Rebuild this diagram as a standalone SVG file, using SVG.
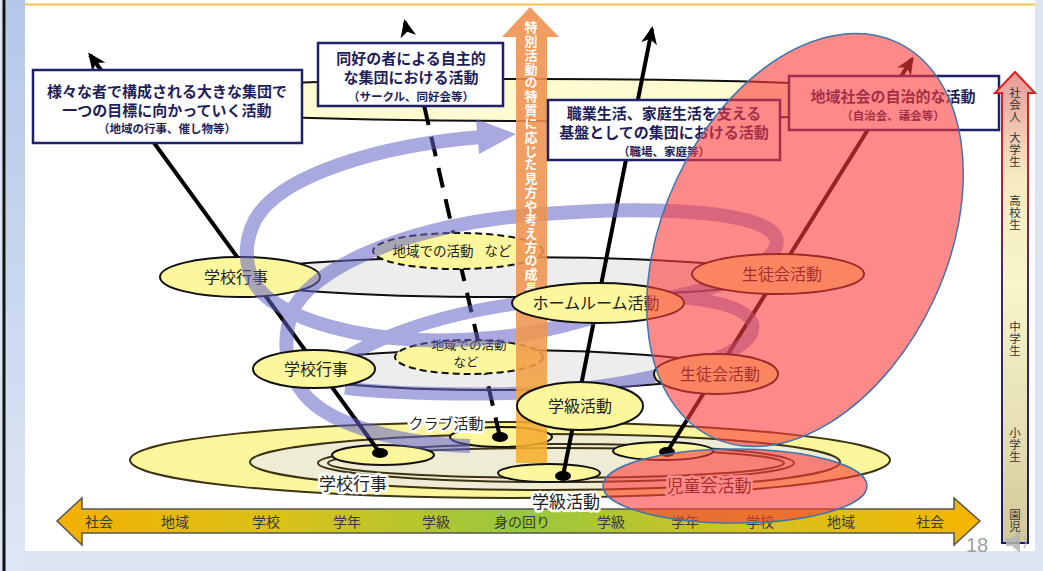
<svg xmlns="http://www.w3.org/2000/svg" width="1043" height="571" viewBox="0 0 1043 571">
<style>
.box{fill:#fff;stroke:#1f1f6b;stroke-width:2.5}
.bt{font-family:"Noto Sans CJK JP","Noto Sans",sans-serif;font-weight:bold;fill:#1e1e5a;font-size:15px;text-anchor:middle}
.bs{font-size:11.5px}
.node{fill:#fcf69c;stroke:#111;stroke-width:2}
.dn{stroke-dasharray:7 4}
.nt{font-family:"Noto Sans CJK JP","Noto Sans",sans-serif;font-size:16px;fill:#222;text-anchor:middle}
.st{font-size:13.5px}
.ring{stroke:#3b3312;stroke-width:2}
.ln{stroke:#000;stroke-width:4;fill:none}
.dot{fill:#000}
.halo{paint-order:stroke;stroke:#fff;stroke-width:5px;stroke-linejoin:round}
.ax{font-family:"Noto Sans CJK JP","Noto Sans",sans-serif;font-size:14px;fill:#3a3a3a;text-anchor:middle}
.vt{font-family:"Noto Sans CJK JP","Noto Sans",sans-serif;font-size:11.5px;fill:#333;writing-mode:vertical-rl;text-orientation:upright;letter-spacing:0.3px}
.ot{font-family:"Noto Sans CJK JP","Noto Sans",sans-serif;font-size:13px;font-weight:bold;fill:#fff;writing-mode:vertical-rl;text-orientation:upright;letter-spacing:0.7px}
.red{fill:#fc3a3a;fill-opacity:0.6;stroke:#3f74ad;stroke-width:1.5}
</style>
<defs>
<linearGradient id="gLeft" x1="0" y1="0" x2="0" y2="1"><stop offset="0" stop-color="#b3c8e8"/><stop offset="1" stop-color="#dfe7f5"/></linearGradient>
<linearGradient id="gAxis" gradientUnits="userSpaceOnUse" x1="57" y1="0" x2="980" y2="0"><stop offset="0" stop-color="#f4b000"/><stop offset="0.25" stop-color="#d9c21a"/><stop offset="0.5" stop-color="#98c83e"/><stop offset="0.75" stop-color="#d5c21e"/><stop offset="1" stop-color="#f4b400"/></linearGradient>
<linearGradient id="gOrange" gradientUnits="userSpaceOnUse" x1="0" y1="7" x2="0" y2="463"><stop offset="0" stop-color="#ee8f4e"/><stop offset="0.7" stop-color="#ef9550"/><stop offset="0.88" stop-color="#f4a838"/><stop offset="1" stop-color="#f6b02a"/></linearGradient>
<linearGradient id="gAgeFill" gradientUnits="userSpaceOnUse" x1="0" y1="72" x2="0" y2="543"><stop offset="0" stop-color="#e89a98"/><stop offset="0.22" stop-color="#f6eac2"/><stop offset="0.45" stop-color="#f8f5c8"/><stop offset="0.75" stop-color="#e6e0b4"/><stop offset="1" stop-color="#d2c898"/></linearGradient>
<linearGradient id="gAgeStroke" gradientUnits="userSpaceOnUse" x1="0" y1="72" x2="0" y2="543"><stop offset="0" stop-color="#e41e1e"/><stop offset="0.22" stop-color="#c02030"/><stop offset="0.45" stop-color="#3a2a70"/><stop offset="1" stop-color="#1c1c64"/></linearGradient>
<marker id="ah" markerUnits="userSpaceOnUse" markerWidth="18" markerHeight="16" refX="15" refY="8" orient="auto"><path d="M0,0 L18,8 L0,16 L5,8 z" fill="#000"/></marker>
</defs>

<!-- frame -->
<rect width="1043" height="571" fill="#dde5f3"/>
<rect x="6" y="0" width="19" height="571" fill="url(#gLeft)"/>
<rect x="2.5" y="0" width="3" height="571" fill="#111"/>
<rect x="25" y="0" width="1010" height="551" fill="#fff"/>
<line x1="25" y1="4.5" x2="1035" y2="4.5" stroke="#f3c247" stroke-width="2"/>

<!-- layers -->
<g id="layers">
<ellipse cx="540" cy="100" rx="430" ry="21" fill="#fdfbd0" stroke="#111" stroke-width="2"/>
<ellipse cx="505" cy="277" rx="275" ry="20" fill="#ededed" stroke="#111" stroke-width="2"/>
<ellipse cx="500" cy="370" rx="220" ry="20" fill="#ededed" stroke="#111" stroke-width="2"/>
<ellipse class="ring" cx="510" cy="460" rx="380" ry="38" fill="#fbf59b"/>
<ellipse class="ring" cx="545" cy="462" rx="295" ry="28" fill="#efecd6"/>
<ellipse class="ring" cx="556" cy="463" rx="238" ry="19" fill="none"/>
<ellipse class="ring" cx="556" cy="463" rx="228" ry="15" fill="none"/>
</g>

<!-- bottom small nodes -->
<g id="node-small-gakkogyoji"><ellipse class="node" cx="383" cy="455" rx="51" ry="10"/></g>
<g id="node-small-club"><ellipse class="node" cx="501" cy="437" rx="51" ry="10"/></g>
<g id="node-small-gakkyu"><ellipse class="node" cx="549" cy="473" rx="51" ry="9"/></g>
<g id="node-small-jidokai"><ellipse class="node" cx="663" cy="451" rx="50" ry="9"/></g>

<!-- connectors -->
<g id="connectors">
<path class="ln" d="M380,453 L90,55" marker-end="url(#ah)"/>
<path class="ln" d="M500,437 L405,22" stroke-dasharray="20 12" marker-end="url(#ah)"/>
<path class="ln" d="M563,476 L652,29" marker-end="url(#ah)"/>
<path class="ln" d="M667,452 L912,59" marker-end="url(#ah)"/>
<ellipse class="dot" cx="380" cy="453" rx="8" ry="5"/>
<ellipse class="dot" cx="500" cy="437" rx="8" ry="5"/>
<ellipse class="dot" cx="563" cy="476" rx="8" ry="5"/>
<ellipse class="dot" cx="667" cy="452" rx="8" ry="5"/>
</g>

<!-- nodes under spiral -->
<g id="node-gakkogyoji-high"><ellipse class="node" cx="240" cy="277" rx="80" ry="20"/><text class="nt" x="236" y="283">学校行事</text></g>
<g id="node-chiiki-high"><ellipse class="node dn" cx="458" cy="251" rx="85" ry="18"/><text class="nt st" x="452" y="256">地域での活動<tspan dx="8"> など</tspan></text></g>
<g id="node-chiiki-mid"><ellipse class="node dn" cx="469" cy="357" rx="74" ry="17"/><text class="nt" style="font-size:12.5px" x="469" y="350">地域での活動</text><text class="nt" style="font-size:12.5px" x="466" y="367">など</text></g>

<!-- spiral -->
<g id="spiral" opacity="0.55" fill="none" stroke="#6464c8">
<path stroke-width="13" d="M345,358 C400,325 480,305 560,299 C650,292 740,296 752,322 C760,345 710,365 650,377 C600,388 540,394 480,394 C420,394 375,392 345,388"/>
<path stroke-width="14" d="M470,446 C400,444 330,425 305,395 C285,372 282,340 292,312 C310,270 400,228 520,216 C630,206 745,208 772,232 C792,252 745,280 690,293 C630,307 580,322 545,330 C520,336 470,342 420,340 C350,337 300,320 275,303 C245,285 240,250 255,220 C280,175 380,145 482,137"/>
<polygon fill="#6464c8" stroke="none" points="476,119 516,134 479,154"/>
</g>

<!-- orange growth arrow -->
<g id="growth-arrow">
<path d="M530,7 L559,37 L547,37 L547,463 L516,463 L516,37 L502,37 Z" fill="url(#gOrange)" opacity="0.88"/>
<text class="ot" x="531" y="21">特別活動の特質に応じた見方や考え方の成長</text>
</g>

<!-- nodes over spiral -->
<g id="node-homeroom"><ellipse class="node" cx="598" cy="303" rx="86" ry="20"/><text class="nt" x="596" y="309">ホームルーム活動</text></g>
<g id="node-gakkyu-mid"><ellipse class="node" cx="580" cy="406" rx="63" ry="24"/><text class="nt" x="580" y="412">学級活動</text></g>
<g id="node-seito-high"><ellipse class="node" cx="778" cy="274" rx="86" ry="20"/><text class="nt" x="782" y="280">生徒会活動</text></g>
<g id="node-seito-mid"><ellipse class="node" cx="716" cy="374" rx="62" ry="20"/><text class="nt" x="720" y="380">生徒会活動</text></g>
<g id="node-gakkogyoji-mid"><ellipse class="node" cx="314" cy="369" rx="61" ry="19"/><text class="nt" x="316" y="375">学校行事</text></g>

<!-- boxes -->
<g id="box-community-events"><rect class="box" x="33" y="70" width="269" height="73"/><text class="bt" x="167" y="97">様々な者で構成される大きな集団で</text><text class="bt" x="167" y="116">一つの目標に向かっていく活動</text><text class="bt bs" x="167" y="133">（地域の行事、催し物等）</text></g>
<g id="box-circle"><rect class="box" x="318" y="43" width="185" height="63"/><text class="bt" x="411" y="64">同好の者による自主的</text><text class="bt" x="411" y="83">な集団における活動</text><text class="bt bs" x="411" y="101">（サークル、同好会等）</text></g>
<g id="box-work"><rect class="box" x="548" y="100" width="232" height="60"/><text class="bt" x="664" y="119">職業生活、家庭生活を支える</text><text class="bt" x="664" y="138">基盤としての集団における活動</text><text class="bt bs" x="664" y="156">（職場、家庭等）</text></g>
<g id="box-selfgov"><rect class="box" x="789" y="76" width="210" height="54"/><text class="bt" x="893" y="102">地域社会の自治的な活動</text><text class="bt bs" x="893" y="120">（自治会、議会等）</text></g>

<!-- bottom axis -->
<g id="axis">
<polygon points="57,521 82,498 82,509 954,509 954,498 980,521 954,545 954,533 82,533 82,545" fill="url(#gAxis)" stroke="#555" stroke-width="1.5"/>
<text class="ax" x="99" y="527">社会</text>
<text class="ax" x="175" y="527">地域</text>
<text class="ax" x="266" y="527">学校</text>
<text class="ax" x="347" y="527">学年</text>
<text class="ax" x="436" y="527">学級</text>
<text class="ax" x="522" y="527">身の回り</text>
<text class="ax" x="611" y="527">学級</text>
<text class="ax" x="685" y="527">学年</text>
<text class="ax" x="760" y="527">学校</text>
<text class="ax" x="841" y="527">地域</text>
<text class="ax" x="930" y="527">社会</text>
</g>

<!-- bottom labels -->
<g id="labels-elementary">
<text class="nt halo" x="446" y="429" style="font-size:15px">クラブ活動</text>
<text class="nt halo" x="353" y="490" style="font-size:17px">学校行事</text>
<text class="nt halo" x="566" y="508" style="font-size:17px">学級活動</text>
<text class="nt halo" x="709" y="492" style="font-size:17px">児童会活動</text>
</g>

<!-- age arrow -->
<g id="age-arrow">
<polygon points="1015,72 1035,93 1028,93 1028,543 1002,543 1002,93 995,93" fill="url(#gAgeFill)" stroke="url(#gAgeStroke)" stroke-width="2"/>
<text class="vt" x="1015" y="87">社会人</text>
<text class="vt" x="1015" y="132">大学生</text>
<text class="vt" x="1015" y="195">高校生</text>
<text class="vt" x="1015" y="321">中学生</text>
<text class="vt" x="1015" y="427">小学生</text>
<text class="vt" x="1015" y="509">園児</text>
</g>

<!-- red highlight ellipses -->
<g id="highlight">
<ellipse class="red" cx="805" cy="240" rx="142" ry="218" transform="rotate(25 805 240)"/>
<ellipse class="red" cx="735" cy="486" rx="132" ry="37"/>
</g>

<!-- page number and speaker -->
<text x="977" y="552" font-family="Liberation Sans, sans-serif" font-size="20" fill="#a0a0a0" text-anchor="middle">18</text>
<g id="speaker" fill="#b4b4b4" opacity="0.85">
<polygon points="1006,538 1012,538 1020,531 1020,553 1012,546 1006,546"/>
<path d="M1024,536 Q1028,542 1024,548" fill="none" stroke="#b4b4b4" stroke-width="1.5"/>
</g>
</svg>
